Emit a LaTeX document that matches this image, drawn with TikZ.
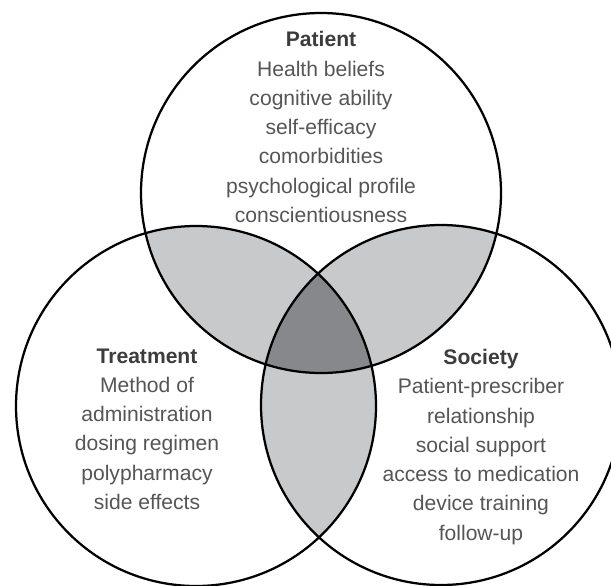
\documentclass[tikz,border=0pt]{standalone}
\usepackage{fontspec}
\setmainfont{Liberation Sans}

\definecolor{pairgrey}{HTML}{C8C9CB}
\definecolor{coregrey}{HTML}{87888C}
\definecolor{textgrey}{HTML}{555555}
\definecolor{headgrey}{HTML}{3C3C3C}

\begin{document}
\begin{tikzpicture}
    [
        x = 0.025cm, y = -0.025cm,
        ring/.style = {draw = black, line width = 1.6pt},
        paired/.style = {fill = pairgrey},
        core/.style = {fill = coregrey},
        factors/.style = {align = center, text = textgrey,
                font = \fontsize{15}{20.8}\selectfont},
    ]

    \useasboundingbox (0,0) rectangle (611,585);
    \clip (0,0) rectangle (611,585);

    \coordinate (patient) at (321,193);
    \coordinate (treatment) at (196,406);
    \coordinate (society) at (441,405);

    \begin{scope}
        \clip (treatment) circle [radius = 180];
        \fill[paired] (society) circle [radius = 180];
    \end{scope}
    \begin{scope}
        \clip (patient) circle [radius = 180];
        \fill[paired] (treatment) circle [radius = 180];
        \fill[paired] (society) circle [radius = 180];
        \clip (treatment) circle [radius = 180];
        \fill[core] (society) circle [radius = 180];
    \end{scope}

    \foreach \c in {patient,treatment,society}{
            \draw[ring] (\c) circle [radius = 180];
        }

    \node[factors] (patienttext) at (321,127) {{\color{headgrey}\bfseries Patient}\\
        Health beliefs\\ cognitive ability\\ self-efficacy\\ comorbidities\\
        psychological profile\\ conscientiousness};

    \node[factors] (treatmenttext) at (147,429) {{\color{headgrey}\bfseries Treatment}\\
        Method of\\ administration\\ dosing regimen\\ polypharmacy\\ side effects};

    \node[factors] (societytext) at (481,447) {{\color{headgrey}\bfseries Society}\\
        Patient-prescriber\\ relationship\\ social support\\ access to medication\\
        device training\\ follow-up};

\end{tikzpicture}
\end{document}
